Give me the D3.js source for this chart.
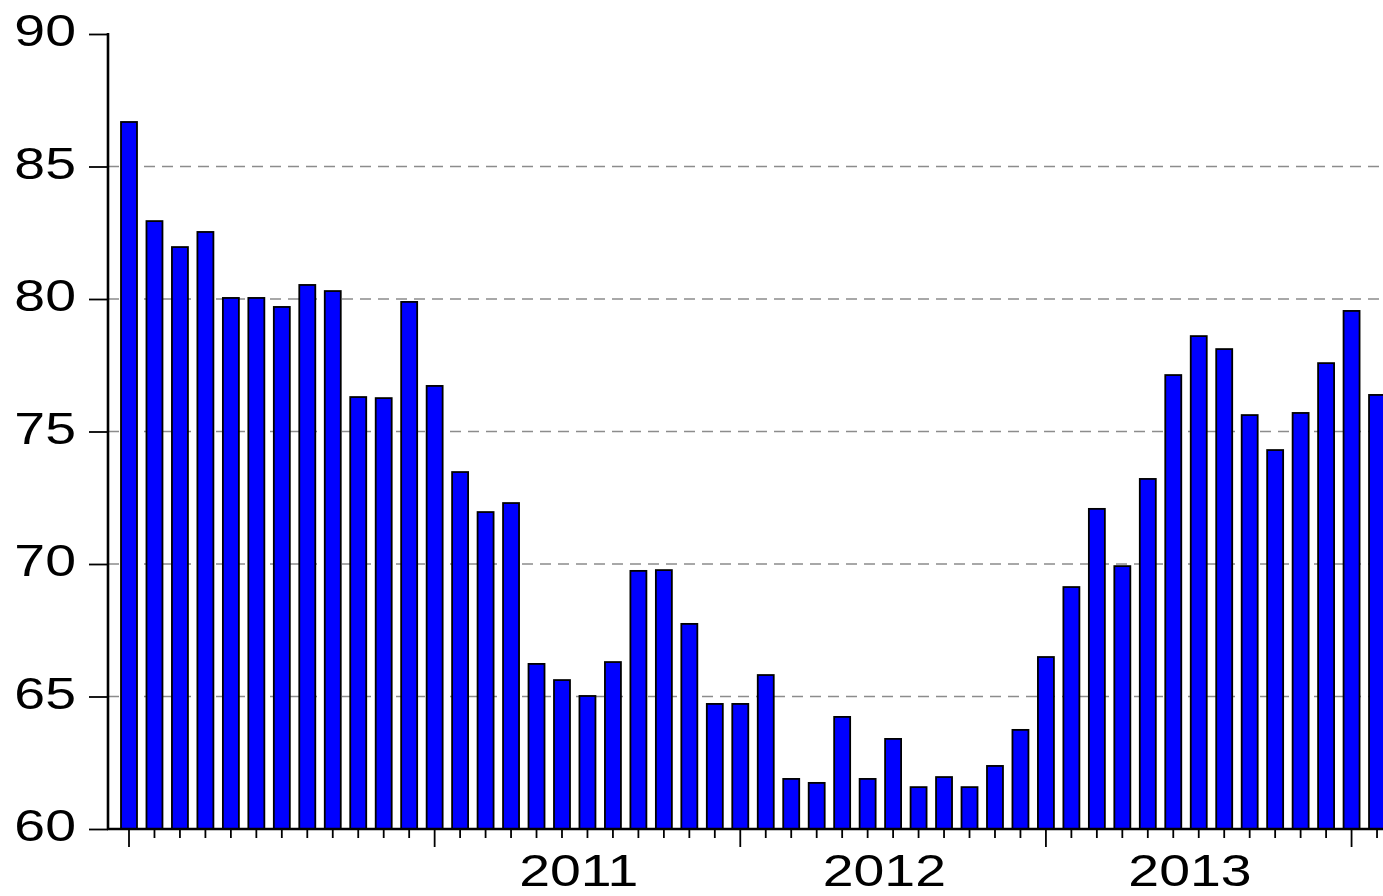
<!DOCTYPE html>
<html>
<head>
<meta charset="utf-8">
<script src="https://cdn.jsdelivr.net/npm/d3@7"></script>
<style>
  body { margin: 0; background: #fff; }
  svg { display: block; }
  .lbl { font-family: Arial, "Liberation Sans", sans-serif; font-size: 44px; fill: #000; }
</style>
</head>
<body>
<div class="chart"></div>
<script>
// months shown on the x axis (Jan 2010 .. Feb 2014)
var months = [
  "2010-01","2010-02","2010-03","2010-04","2010-05","2010-06","2010-07","2010-08","2010-09","2010-10","2010-11","2010-12",
  "2011-01","2011-02","2011-03","2011-04","2011-05","2011-06","2011-07","2011-08","2011-09","2011-10","2011-11","2011-12",
  "2012-01","2012-02","2012-03","2012-04","2012-05","2012-06","2012-07","2012-08","2012-09","2012-10","2012-11","2012-12",
  "2013-01","2013-02","2013-03","2013-04","2013-05","2013-06","2013-07","2013-08","2013-09","2013-10","2013-11","2013-12",
  "2014-01","2014-02"
];

// bar heights
var values = [
  86.68, 82.94, 81.96, 82.53, 80.04, 80.04, 79.70, 80.53, 80.30, 76.30, 76.26, 79.89,
  76.72, 73.47, 71.96, 72.30, 66.23, 65.62, 65.02, 66.30, 69.74, 69.77, 67.74, 64.72,
  64.72, 65.81, 61.89, 61.74, 64.23, 61.89, 63.40, 61.58, 61.96, 61.58, 62.38, 63.74,
  66.49, 69.13, 72.08, 69.92, 73.21, 77.13, 78.60, 78.11, 75.62, 74.30, 75.70, 77.58,
  79.55, 76.38
];

var yTicks = [60, 65, 70, 75, 80, 85, 90];
var gridValues = [65, 70, 75, 80, 85];
var yearLabels = ["2011", "2012", "2013"];

var svgWidth = 1383;
var svgHeight = 896;
var axisX = 108;      // left axis position
var axisY = 829;      // bottom axis position
var topY = 34;

var svg = d3.select('.chart')
  .append('svg')
  .attr('width', svgWidth)
  .attr('height', svgHeight);

// x: one band per month, step ~25.47px, first tick at 129
var step = 25.47;
var x = d3.scaleBand()
  .domain(months)
  .range([129 - step / 2, 129 - step / 2 + months.length * step])
  .paddingInner(0.372)
  .paddingOuter(0.186);

var y = d3.scaleLinear().domain([60, 90]).range([axisY, topY]);

// dashed gridlines behind the bars
svg.append('g')
  .selectAll('line')
  .data(gridValues)
  .enter()
  .append('line')
  .attr('x1', axisX)
  .attr('x2', svgWidth)
  .attr('y1', function(d) { return y(d); })
  .attr('y2', function(d) { return y(d); })
  .attr('stroke', '#8c8c8c')
  .attr('stroke-width', 1.6)
  .attr('stroke-dasharray', '11,7');

// bars
svg.append('g')
  .selectAll('rect')
  .data(values)
  .enter()
  .append('rect')
  .attr('x', function(d, i) { return x(months[i]); })
  .attr('y', function(d) { return y(d); })
  .attr('width', x.bandwidth())
  .attr('height', function(d) { return axisY - y(d); })
  .attr('fill', '#0000ff')
  .attr('stroke', '#000')
  .attr('stroke-width', 1.8);

// left axis
var leftAxis = d3.axisLeft(y).tickValues(yTicks).tickSize(19).tickFormat('');
var gy = svg.append('g')
  .attr('transform', 'translate(' + axisX + ',0)')
  .call(leftAxis);
gy.select('.domain').remove();
gy.selectAll('.tick line').attr('stroke', '#000').attr('stroke-width', 1.8);
svg.append('line')
  .attr('x1', axisX).attr('x2', axisX)
  .attr('y1', topY - 1).attr('y2', axisY + 1)
  .attr('stroke', '#000').attr('stroke-width', 2.6);

svg.append('g')
  .selectAll('text')
  .data(yTicks)
  .enter()
  .append('text')
  .attr('class', 'lbl')
  .attr('text-anchor', 'end')
  .attr('transform', function(d) {
    return 'translate(76,' + (y(d) + 12) + ') scale(1.26,1)';
  })
  .text(function(d) { return d; });

// bottom axis: minor tick every month, long tick in January
var bottomAxis = d3.axisBottom(x).tickSizeOuter(0).tickFormat('');
var gx = svg.append('g')
  .attr('transform', 'translate(0,' + axisY + ')')
  .call(bottomAxis);
gx.select('.domain').remove();
gx.selectAll('.tick line')
  .attr('stroke', '#000')
  .attr('stroke-width', 1.8)
  .attr('y2', function(d) { return d.slice(5) === '01' ? 18 : 9; });
svg.append('line')
  .attr('x1', axisX - 1).attr('x2', svgWidth)
  .attr('y1', axisY).attr('y2', axisY)
  .attr('stroke', '#000').attr('stroke-width', 2.6);

// year labels centred between January ticks
svg.append('g')
  .selectAll('text')
  .data(yearLabels)
  .enter()
  .append('text')
  .attr('class', 'lbl')
  .attr('text-anchor', 'middle')
  .attr('transform', function(d) {
    var a = x(d + '-01') + x.bandwidth() / 2;
    var cx = a + 6 * step - step / 2 + 4;
    return 'translate(' + cx + ',886) scale(1.26,1)';
  })
  .text(function(d) { return d; });
</script>
</body>
</html>
